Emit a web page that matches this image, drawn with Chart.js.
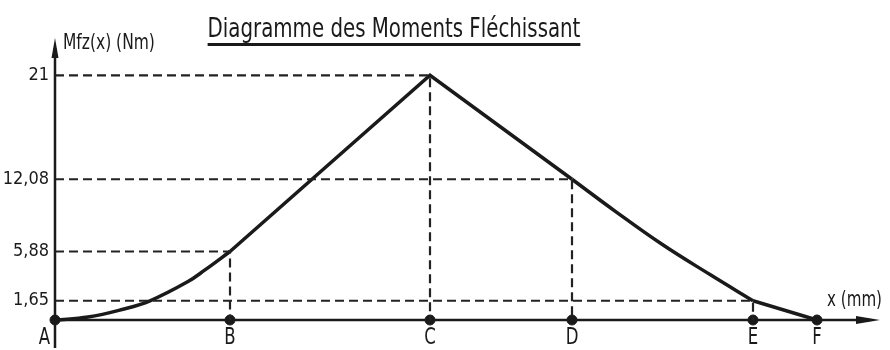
<!DOCTYPE html>
<html>
<head>
<meta charset="utf-8">
<script src="https://cdn.jsdelivr.net/npm/chart.js@4/dist/chart.umd.min.js"></script>
<style>
  body { margin: 0; background: #fff; }
  #wrap { width: 890px; height: 350px; }
</style>
</head>
<body>
<div id="wrap"><canvas id="moments"></canvas></div>
<script>
// points caractéristiques (x en mm)
const pointNames = ['A', 'B', 'C', 'D', 'E', 'F'];
const pointX = [0, 175, 375, 517, 698, 762];
const pointM = [0, 5.88, 21, 12.08, 1.65, 0];

// graduations de l'axe Mfz
const tickValues = [1.65, 5.88, 12.08, 21];
const tickLabels = ['1,65', '5,88', '12,08', '21'];

// portions courbes (relevées)
const curveABx = [0, 33, 67, 95, 133, 150, 175];
const curveABy = [0, 0.25, 0.9, 1.65, 3.3, 4.3, 5.88];
const curveDEx = [517, 560, 607, 655, 698];
const curveDEy = [12.08, 9.35, 6.5, 3.9, 1.65];

const FONT = "'DejaVu Sans Condensed', 'DejaVu Sans', sans-serif";
const INK = '#1a1a1a';

const toPts = (xs, ys) => xs.map((x, i) => ({ x: x, y: ys[i] }));

const datasets = [];

// lignes de rappel en pointillés (B, C, D, E)
[1, 2, 3, 4].forEach(i => {
  datasets.push({
    data: [{ x: 0, y: pointM[i] }, { x: pointX[i], y: pointM[i] }, { x: pointX[i], y: 0 }],
    borderColor: '#222',
    borderWidth: 2.2,
    borderDash: [9, 5],
    pointRadius: 0,
    tension: 0,
    clip: false
  });
});

// courbe du moment
const courbe = {
  borderColor: INK,
  borderWidth: 3.5,
  pointRadius: 0,
  clip: false
};
datasets.push(Object.assign({}, courbe, { data: toPts(curveABx, curveABy), tension: 0.4 }));
datasets.push(Object.assign({}, courbe, { data: toPts(pointX.slice(1, 4), pointM.slice(1, 4)), tension: 0 }));
datasets.push(Object.assign({}, courbe, { data: toPts(curveDEx, curveDEy), tension: 0.4 }));
datasets.push(Object.assign({}, courbe, { data: toPts(pointX.slice(4), pointM.slice(4)), tension: 0 }));

// points sur l'axe
datasets.push({
  data: pointX.map(x => ({ x: x, y: 0 })),
  pointRadius: 5,
  pointBackgroundColor: INK,
  pointBorderColor: INK,
  showLine: false,
  clip: false
});

// texte resserré horizontalement
function texte(ctx, str, x, y, size, align, serre) {
  ctx.save();
  ctx.font = size + 'px ' + FONT;
  ctx.textAlign = align;
  ctx.translate(x, y);
  ctx.scale(serre, 1);
  ctx.fillText(str, 0, 0);
  const w = ctx.measureText(str).width * serre;
  ctx.restore();
  return w;
}

const dessin = {
  id: 'dessin',
  beforeDatasetsDraw(chart) {
    const ctx = chart.ctx;
    const a = chart.chartArea;
    const x0 = chart.scales.x.getPixelForValue(0);
    const y0 = chart.scales.y.getPixelForValue(0);
    ctx.save();
    ctx.strokeStyle = INK;
    ctx.fillStyle = INK;
    ctx.lineWidth = 2.5;
    // axe des x
    ctx.beginPath();
    ctx.moveTo(x0, y0);
    ctx.lineTo(a.right - 10, y0);
    ctx.stroke();
    ctx.beginPath();
    ctx.moveTo(a.right, y0);
    ctx.lineTo(a.right - 24, y0 - 4);
    ctx.lineTo(a.right - 24, y0 + 4);
    ctx.closePath();
    ctx.fill();
    // axe des y
    ctx.beginPath();
    ctx.moveTo(x0, chart.height - 2);
    ctx.lineTo(x0, a.top + 10);
    ctx.stroke();
    ctx.beginPath();
    ctx.moveTo(x0, a.top);
    ctx.lineTo(x0 - 3.5, a.top + 20);
    ctx.lineTo(x0 + 3.5, a.top + 20);
    ctx.closePath();
    ctx.fill();
    ctx.restore();
  },
  afterDraw(chart) {
    const ctx = chart.ctx;
    const a = chart.chartArea;
    const sx = chart.scales.x;
    const y0 = chart.scales.y.getPixelForValue(0);
    ctx.save();
    ctx.fillStyle = INK;
    ctx.textBaseline = 'alphabetic';

    // titre souligné
    const w = texte(ctx, 'Diagramme des Moments Fléchissant', 394, 37, 27, 'center', 0.815);
    ctx.fillRect(394 - w / 2, 43, w, 3);

    // titres des axes
    texte(ctx, 'Mfz(x) (Nm)', 63, 49, 21, 'left', 0.82);
    texte(ctx, 'x (mm)', a.right + 2, y0 - 14, 21, 'right', 0.8);

    // noms des points
    ctx.textBaseline = 'top';
    pointNames.forEach((n, i) => {
      const px = sx.getPixelForValue(pointX[i]);
      if (i === 0) texte(ctx, n, px - 5, y0 + 7, 23, 'right', 0.8);
      else texte(ctx, n, px, y0 + 7, 23, 'center', 0.8);
    });
    ctx.restore();
  }
};

new Chart(document.getElementById('moments'), {
  type: 'line',
  data: { datasets: datasets },
  options: {
    responsive: true,
    maintainAspectRatio: false,
    animation: false,
    layout: { padding: { top: 38, right: 10, bottom: 30, left: 0 } },
    plugins: { legend: { display: false }, tooltip: { enabled: false }, title: { display: false } },
    scales: {
      x: { type: 'linear', min: 0, max: 825, display: false },
      y: {
        type: 'linear',
        min: 0,
        max: 24.2,
        grid: { display: false, drawTicks: false },
        border: { display: false },
        afterBuildTicks: scale => { scale.ticks = tickValues.map(v => ({ value: v })); },
        afterFit: scale => { scale.width = 55; },
        ticks: {
          padding: 6,
          color: INK,
          font: { family: FONT, size: 18 },
          callback: (v, i) => tickLabels[i]
        }
      }
    }
  },
  plugins: [dessin]
});
</script>
</body>
</html>
